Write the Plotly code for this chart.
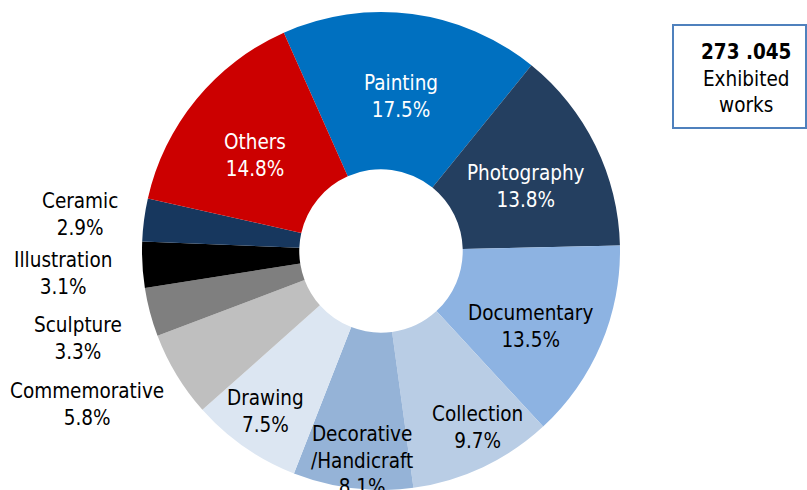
import plotly.graph_objects as go

# ---- data ----
labels = ["Painting", "Photography", "Documentary", "Collection",
          "Decorative<br>/Handicraft", "Drawing", "Commemorative",
          "Sculpture", "Illustration", "Ceramic", "Others"]
shares = [17.5, 13.8, 13.5, 9.7, 8.1, 7.5, 5.8, 3.3, 3.1, 2.9, 14.8]
total_works = "273 .045"
total_caption = "Exhibited<br>works"

# ---- styles ----
colors = ["#0070C0", "#243F60", "#8DB3E2", "#B9CDE5", "#95B3D7", "#DCE6F2",
          "#BFBFBF", "#7F7F7F", "#000000", "#17375E", "#CC0000"]
text_colors = ["white", "white", "black", "black", "black", "black",
               "black", "black", "black", "black", "white"]
# label centre positions in pixels (x, y from top)
label_pos = [(401, 96), (526, 186), (530, 326), (477, 427), (362, 460),
             (265, 411), (87, 404), (78, 338), (63, 273), (80, 215), (255, 155)]

W, H = 807, 490
FONT = "DejaVu Sans Condensed, DejaVu Sans, sans-serif"

fig = go.Figure(go.Pie(
    labels=labels,
    values=shares,
    sort=False,
    direction="clockwise",
    rotation=-24,
    hole=0.342,
    marker=dict(colors=colors, line=dict(width=0)),
    textinfo="none",
    showlegend=False,
    domain=dict(x=[(381 - 241) / W, (381 + 241) / W], y=[0, 1 - 12 / H]),
))

annotations = []
for lab, val, (px, py), tc in zip(labels, shares, label_pos, text_colors):
    annotations.append(dict(
        x=px / W, y=1 - py / H, xref="paper", yref="paper",
        text=f"{lab}<br>{val:.1f}%", showarrow=False,
        xanchor="center", yanchor="middle", align="center",
        font=dict(family=FONT, size=20.5, color=tc),
    ))

annotations.append(dict(
    x=746 / W, y=1 - 78 / H, xref="paper", yref="paper",
    text=f"<b>{total_works}</b><br>{total_caption}", showarrow=False,
    xanchor="center", yanchor="middle", align="center",
    font=dict(family=FONT, size=20.5, color="black"),
))

fig.update_layout(
    width=W, height=H,
    margin=dict(l=0, r=0, t=0, b=0),
    paper_bgcolor="white", plot_bgcolor="white",
    annotations=annotations,
    shapes=[dict(type="rect", xref="paper", yref="paper",
                 x0=673 / W, x1=806 / W, y0=1 - 128 / H, y1=1 - 25 / H,
                 line=dict(color="#4F81BD", width=2), fillcolor="white",
                 layer="below")],
)

fig.write_html("out.html",
               config={"displayModeBar": False},
               post_script="document.body.style.margin='0';"
                           "document.body.style.overflow='hidden';")
